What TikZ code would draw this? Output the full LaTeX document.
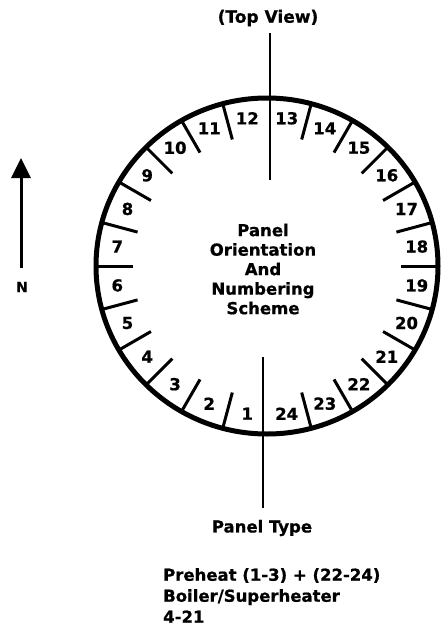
\documentclass[tikz,border=0pt]{standalone}
\usepackage{fontspec}
\setmainfont{DejaVu Sans}[BoldFeatures={FakeBold=0.8}]
\usetikzlibrary{arrows.meta}
\begin{document}
\begin{tikzpicture}[x=1pt,y=1pt,
  num/.style={font=\bfseries\fontsize{16.5}{18}\selectfont, inner sep=0pt},
  txt/.style={font=\bfseries\fontsize{16.5}{19.5}\selectfont, inner sep=0pt, align=center},
  lowtxt/.style={font=\bfseries\fontsize{16.5}{21}\selectfont, inner sep=0pt, align=left},
  rim/.style={line width=5pt},
  tick/.style={line width=3pt},
  axis/.style={line width=2.5pt}]
\useasboundingbox (0,0) rectangle (442,-632);
% north arrow
\node[font=\bfseries\fontsize{14}{16}\selectfont, inner sep=0pt] (n) at (22,-287) {N};
\coordinate (nbase) at (21,-268);
\coordinate (ntip) at (21,-158);
\draw[line width=3pt, -{Triangle[width=19pt,length=20pt]}] (nbase) -- (ntip);
% title and axis lines
\node[font=\bfseries\fontsize{17}{20}\selectfont, inner sep=0pt] (top) at (268,-18) {(Top View)};
\coordinate (ta) at (270,-33);
\coordinate (tb) at (270,-180);
\draw[axis] (ta) -- (tb);
\coordinate (ba) at (263,-357);
\coordinate (bb) at (263,-508);
\draw[axis] (ba) -- (bb);
% ring
\begin{scope}[shift={(267,-266)}]
  \draw[rim] (0,0) ellipse [x radius=171, y radius=168];
  \foreach \k in {1,...,11,13,14,...,23} {
    \pgfmathsetmacro\a{270-15*\k}
    \draw[tick] ({134*cos(\a)},{131*sin(\a)}) -- ({172*cos(\a)},{169*sin(\a)});
  }
  \foreach \i in {1,...,24} {
    \pgfmathsetmacro\b{262.5-15*(\i-1)}
    \node[num] (p\i) at ({151*cos(\b)},{149*sin(\b)}) {\i};
  }
\end{scope}
\node[txt] (center) at (263,-269) {Panel\\Orientation\\And\\Numbering\\Scheme};
\node[font=\bfseries\fontsize{16.5}{19}\selectfont, inner sep=0pt] (ptype) at (262,-528) {Panel Type};
\node[lowtxt, anchor=north west] (types) at (163,-568) {Preheat (1-3) + (22-24)\\Boiler/Superheater\\4-21};
\end{tikzpicture}
\end{document}
